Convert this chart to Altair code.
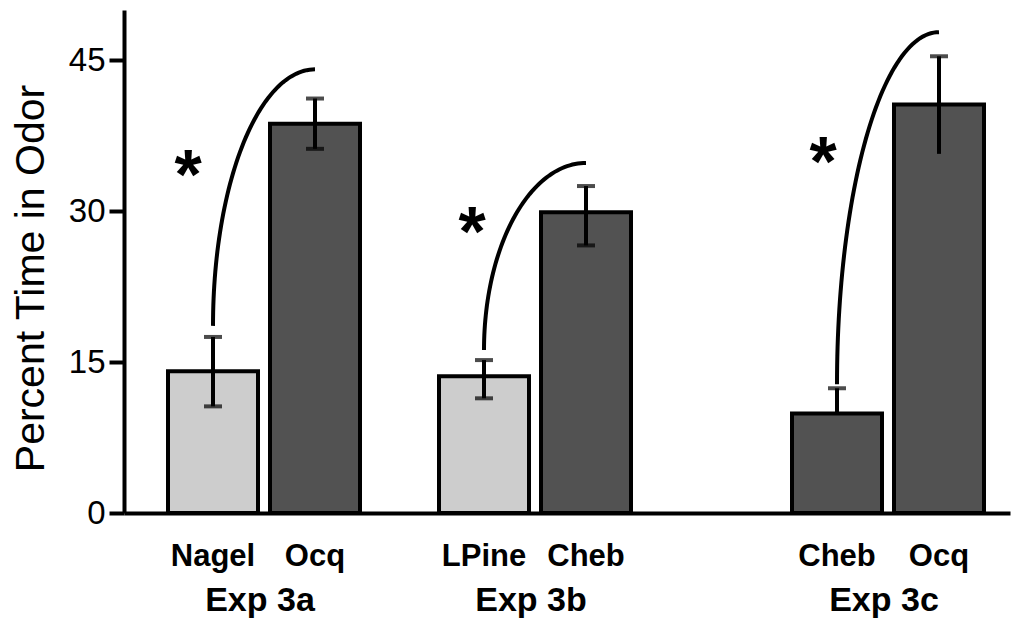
import altair as alt
import numpy as np
import pandas as pd

# Mean percent time spent in each odor zone, with SEM bounds
odors = ["Nagel", "Ocq", "LPine", "Cheb", "Cheb", "Ocq"]
experiments = ["Exp 3a", "Exp 3a", "Exp 3b", "Exp 3b", "Exp 3c", "Exp 3c"]
means = [14.1, 38.7, 13.6, 29.9, 9.9, 40.6]
err_low = [10.6, 36.2, 11.4, 26.6, 9.9, 35.7]
err_high = [17.5, 41.2, 15.2, 32.5, 12.4, 45.4]
shades = ["light", "dark", "light", "dark", "dark", "dark"]

# Significance brackets, one per experiment
exp_names = ["Exp 3a", "Exp 3b", "Exp 3c"]
bracket_low = [18.6, 16.2, 12.8]
bracket_high = [44.1, 34.8, 47.8]
star_level = [34.7, 29.0, 36.0]

y_ticks = [0, 15, 30, 45]

# Horizontal layout (x units are arbitrary slot units)
group_center = [14.0, 41.1, 76.4]
pair_offset = 5.1
bar_half = 4.5
star_shift = [-2.5, -1.2, -1.4]
X_DOMAIN = [0, 88.6]
W, H = 886, 503

bar_x = []
for g in range(3):
    bar_x += [group_center[g] - pair_offset, group_center[g] + pair_offset]

bars = pd.DataFrame({
    "odor": odors,
    "experiment": experiments,
    "mean": means,
    "lo": err_low,
    "hi": err_high,
    "shade": shades,
    "xc": bar_x,
    "x0": [c - bar_half for c in bar_x],
    "x1": [c + bar_half for c in bar_x],
    "cap_lo": [True, True, True, True, False, False],
})

# quarter-ellipse connectors: rise vertically from the left bar, level off over the right bar
arc_rows = []
t = np.linspace(0, np.pi / 2, 60)
for g, name in enumerate(exp_names):
    xl, xr = bar_x[2 * g], bar_x[2 * g + 1]
    lo, hi = bracket_low[g], bracket_high[g]
    for i, tt in enumerate(t):
        arc_rows.append({
            "experiment": name,
            "i": i,
            "x": xl + (xr - xl) * (1 - np.cos(tt)),
            "y": lo + (hi - lo) * np.sin(tt),
        })
arcs = pd.DataFrame(arc_rows)

stars = pd.DataFrame({
    "experiment": exp_names,
    "x": [bar_x[2 * g] + star_shift[g] for g in range(3)],
    "y": star_level,
})

groups = pd.DataFrame({"experiment": exp_names, "x": group_center})

xs = alt.Scale(domain=X_DOMAIN, nice=False, zero=False)
ys = alt.Scale(domain=[0, 50], nice=False)

x_axis = alt.Axis(title=None, labels=False, ticks=False, grid=False,
                  domainColor="black", domainWidth=4)
y_axis = alt.Axis(title="Percent Time in Odor", values=y_ticks, grid=False,
                  domainColor="black", domainWidth=4, tickColor="black",
                  tickWidth=4, tickSize=15, labelFontSize=33, labelColor="black",
                  labelFont="Liberation Sans", labelPadding=4,
                  titleFont="Liberation Sans", titleFontSize=41,
                  titleFontWeight="normal", titleColor="black", titlePadding=16,
                  titleY=268)

base = alt.Chart(bars)

bar_layer = base.mark_rect(stroke="black", strokeWidth=4).encode(
    x=alt.X("x0:Q", scale=xs, axis=x_axis),
    x2="x1:Q",
    y=alt.Y("mean:Q", scale=ys, axis=y_axis),
    y2=alt.datum(0),
    fill=alt.Fill("shade:N", scale=alt.Scale(domain=["light", "dark"],
                                             range=["#cdcdcd", "#525252"]),
                  legend=None),
)

err_stem = base.mark_rule(color="black", strokeWidth=4).encode(
    x=alt.X("xc:Q", scale=xs), y=alt.Y("lo:Q", scale=ys), y2="hi:Q")

cap_hi = base.mark_tick(color="black", orient="horizontal", thickness=4,
                        size=18).encode(
    x=alt.X("xc:Q", scale=xs), y=alt.Y("hi:Q", scale=ys))

cap_lo = base.transform_filter("datum.cap_lo").mark_tick(
    color="black", orient="horizontal", thickness=4, size=18).encode(
    x=alt.X("xc:Q", scale=xs), y=alt.Y("lo:Q", scale=ys))

arc_layer = alt.Chart(arcs).mark_line(color="black", strokeWidth=4).encode(
    x=alt.X("x:Q", scale=xs), y=alt.Y("y:Q", scale=ys),
    detail="experiment:N", order="i:Q")

star_layer = alt.Chart(stars).mark_text(
    text="*", font="Liberation Sans", fontWeight="bold", fontSize=70,
    baseline="middle", dy=14, color="black").encode(
    x=alt.X("x:Q", scale=xs), y=alt.Y("y:Q", scale=ys))

odor_labels = base.mark_text(font="Liberation Sans", fontWeight="bold",
                             fontSize=31, baseline="alphabetic",
                             color="black").encode(
    x=alt.X("xc:Q", scale=xs), y=alt.value(556), text="odor:N")

group_labels = alt.Chart(groups).mark_text(
    font="Liberation Sans", fontWeight="bold", fontSize=34, dx=-4,
    baseline="alphabetic", color="black").encode(
    x=alt.X("x:Q", scale=xs), y=alt.value(601), text="experiment:N")

chart = alt.layer(
    bar_layer, err_stem, cap_hi, cap_lo, arc_layer, star_layer,
    odor_labels, group_labels,
).properties(
    width=W, height=H,
    padding={"left": 124, "top": 10, "right": 11, "bottom": 113},
    autosize=alt.AutoSizeParams(type="none"),
    background="white",
).configure_view(stroke=None)

chart.save("out.html", embed_options={"renderer": "svg", "actions": False})
